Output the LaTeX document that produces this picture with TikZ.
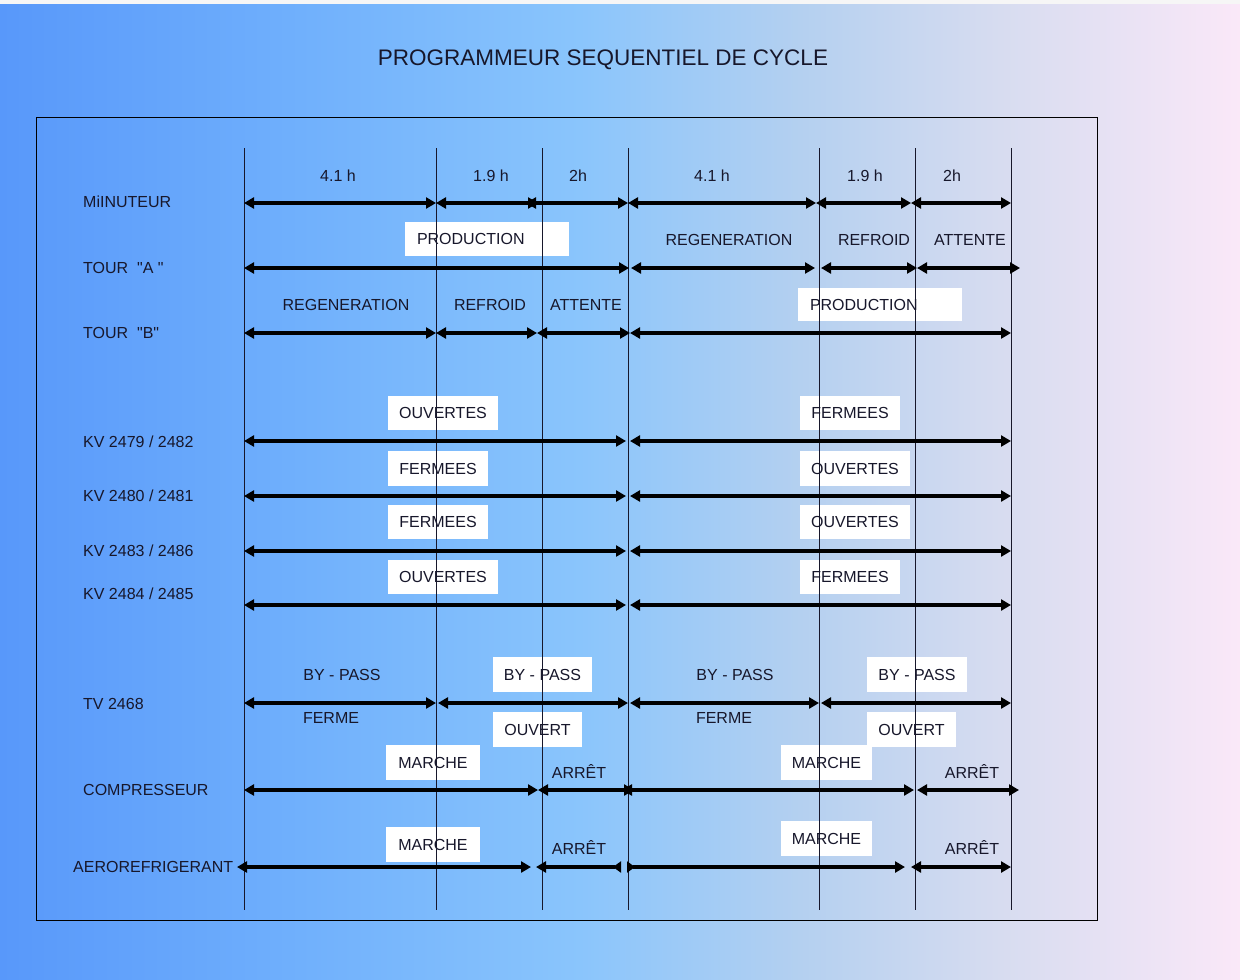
\documentclass[tikz,border=0pt]{standalone}
\usepackage{fontspec}
\setmainfont{Liberation Sans}[Ligatures=TeXOff]
\usetikzlibrary{arrows.meta}
\pgfdeclarelayer{bgl}
\pgfdeclarelayer{boxes}
\pgfdeclarelayer{grid}
\pgfsetlayers{bgl,boxes,grid,main}
\definecolor{ink}{HTML}{17172B}
\definecolor{g0}{RGB}{88,152,250}
\definecolor{g1}{RGB}{112,176,252}
\definecolor{g2}{RGB}{138,197,252}
\definecolor{g3}{RGB}{180,208,240}
\definecolor{g4}{RGB}{215,220,240}
\definecolor{g5}{RGB}{250,232,248}
% white backing behind a boxed label
\newcommand\boxfill[1]{\begin{pgfonlayer}{boxes}\fill[white] (#1.south west) rectangle (#1.north east);\end{pgfonlayer}}
\begin{document}
\begin{tikzpicture}[x=1pt,y=-1pt,
  lbl/.style={font=\fontsize{16}{19}\selectfont, text=ink, inner sep=0pt, text height=11.5pt, text depth=0pt},
  side/.style={lbl, anchor=west},
  tagbox/.style={lbl, minimum height=34pt},
  dblarrow/.style={line width=3.5pt, {Triangle[length=10pt,width=11pt]}-{Triangle[length=10pt,width=11pt]}},
  revend/.style={line width=3.5pt, {Triangle[length=10pt,width=11pt]}-{Triangle[length=8pt,width=11pt,reversed]}},
  revstart/.style={line width=3.5pt, {Triangle[length=8pt,width=11pt,reversed]}-{Triangle[length=10pt,width=11pt]}},
  tick/.style={draw=ink, line width=1pt}]
\useasboundingbox (0,0) rectangle (1240,980);

% background gradient
\begin{pgfonlayer}{bgl}
  \shade[left color=g0, right color=g1] (0,0) rectangle (300.5,980);
  \shade[left color=g1, right color=g2] (300,0) rectangle (580.5,980);
  \shade[left color=g2, right color=g3] (580,0) rectangle (800.5,980);
  \shade[left color=g3, right color=g4] (800,0) rectangle (1000.5,980);
  \shade[left color=g4, right color=g5] (1000,0) rectangle (1240,980);
  \fill[white!93!gray] (0,0) rectangle (1240,4);
\end{pgfonlayer}

% title and frame
\node[text=ink, inner sep=0pt, font=\fontsize{22.5}{26}\selectfont] (title) at (603,60) {PROGRAMMEUR SEQUENTIEL DE CYCLE};
\draw[black, line width=1pt] (36,117) coordinate (fr1) rectangle (1097,920) coordinate (fr2);

% time columns
\begin{pgfonlayer}{grid}
\foreach \i/\x in {1/244,2/436,3/542,4/628,5/819,6/915,7/1011}{
  \coordinate (t\i) at (\x,148);
  \coordinate (b\i) at (\x,910);
  \draw[tick] (t\i) -- (b\i);
}
\end{pgfonlayer}

% row names
\node[side] (n1) at (83,202) {MiINUTEUR};
\node[side] (n2) at (83,268) {TOUR\ \ "A "};
\node[side] (n3) at (83,333) {TOUR\ \ "B"};
\node[side] (n4) at (83,442) {KV 2479 / 2482};
\node[side] (n5) at (83,496) {KV 2480 / 2481};
\node[side] (n6) at (83,551) {KV 2483 / 2486};
\node[side] (n7) at (83,594) {KV 2484 / 2485};
\node[side] (n8) at (83,704) {TV 2468};
\node[side] (n9) at (83,790) {COMPRESSEUR};
\node[side] (n10) at (73,867) {AEROREFRIGERANT};

% timer
\node[lbl] (h1) at (338,176) {4.1 h};
\node[lbl] (h2) at (491,176) {1.9 h};
\node[lbl] (h3) at (578,176) {2h};
\node[lbl] (h4) at (712,176) {4.1 h};
\node[lbl] (h5) at (865,176) {1.9 h};
\node[lbl] (h6) at (952,176) {2h};
\foreach \n/\x in {1/244,2/436,3/538,4/526,5/628,6/816,7/911,8/1011}{\coordinate (m\n) at (\x,203);}
\draw[dblarrow] (m1) -- (m2);
\draw[dblarrow] (m2) -- (m3);
\draw[dblarrow] (m4) -- (m5);
\draw[dblarrow] (m5) -- (m6);
\draw[dblarrow] (m6) -- (m7);
\draw[dblarrow] (m7) -- (m8);

% tower A
\node[tagbox, text width=140pt, align=left, minimum width=164pt] (pa) at (487,239) {PRODUCTION};
\boxfill{pa}
\node[lbl] (a1l) at (729,240) {REGENERATION};
\node[lbl] (a2l) at (874,240) {REFROID};
\node[lbl] (a3l) at (970,240) {ATTENTE};
\foreach \n/\x in {1/244,2/629,3/631,4/815,5/821,6/917,7/1020}{\coordinate (a\n) at (\x,268);}
\draw[dblarrow] (a1) -- (a2);
\draw[dblarrow] (a3) -- (a4);
\draw[dblarrow] (a5) -- (a6);
\draw[dblarrow] (a6) -- (a7);

% tower B
\node[lbl] (b1l) at (346,305) {REGENERATION};
\node[lbl] (b2l) at (490,305) {REFROID};
\node[lbl] (b3l) at (586,305) {ATTENTE};
\node[tagbox, text width=140pt, align=left, minimum width=164pt, minimum height=33pt] (pb) at (880,304.5) {PRODUCTION};
\boxfill{pb}
\foreach \n/\x in {1/244,2/436,3/537,4/630,5/1011}{\coordinate (r\n) at (\x,333);}
\draw[dblarrow] (r1) -- (r2);
\draw[dblarrow] (r2) -- (r3);
\draw[dblarrow] (r3) -- (r4);
\draw[dblarrow] (r4) -- (r5);

% valves
\node[tagbox, minimum width=110pt] (k1l) at (443,413) {OUVERTES}; \boxfill{k1l}
\node[tagbox, minimum width=100pt] (k1r) at (850,413) {FERMEES}; \boxfill{k1r}
\node[tagbox, minimum width=100pt] (k2l) at (438,468.5) {FERMEES}; \boxfill{k2l}
\node[tagbox, minimum width=110pt] (k2r) at (855,468.5) {OUVERTES}; \boxfill{k2r}
\node[tagbox, minimum width=100pt] (k3l) at (438,522) {FERMEES}; \boxfill{k3l}
\node[tagbox, minimum width=110pt] (k3r) at (855,522) {OUVERTES}; \boxfill{k3r}
\node[tagbox, minimum width=110pt] (k4l) at (443,577) {OUVERTES}; \boxfill{k4l}
\node[tagbox, minimum width=100pt] (k4r) at (850,577) {FERMEES}; \boxfill{k4r}
\foreach \r/\y in {1/441,2/496,3/551,4/605}{
  \coordinate (kv\r a) at (244,\y);
  \coordinate (kv\r b) at (626,\y);
  \coordinate (kv\r c) at (630,\y);
  \coordinate (kv\r d) at (1011,\y);
  \draw[dblarrow] (kv\r a) -- (kv\r b);
  \draw[dblarrow] (kv\r c) -- (kv\r d);
}

% TV 2468
\node[lbl] (v1t) at (342,675) {BY - PASS};
\node[tagbox, minimum width=99pt, minimum height=35pt] (v2t) at (542.5,674.5) {BY - PASS}; \boxfill{v2t}
\node[lbl] (v3t) at (735,675) {BY - PASS};
\node[tagbox, minimum width=100pt, minimum height=35pt] (v4t) at (917,674.5) {BY - PASS}; \boxfill{v4t}
\node[lbl] (v1b) at (331,718) {FERME};
\node[tagbox, minimum width=89pt, minimum height=35pt] (v2b) at (537.5,729.5) {OUVERT}; \boxfill{v2b}
\node[lbl] (v3b) at (724,718) {FERME};
\node[tagbox, minimum width=89pt, minimum height=35pt] (v4b) at (911.5,729.5) {OUVERT}; \boxfill{v4b}
\foreach \n/\x in {1/244,2/436,3/438,4/628,5/630,6/819,7/821,8/1011}{\coordinate (v\n) at (\x,703);}
\draw[dblarrow] (v1) -- (v2);
\draw[dblarrow] (v3) -- (v4);
\draw[dblarrow] (v5) -- (v6);
\draw[dblarrow] (v7) -- (v8);

% compressor
\node[tagbox, minimum width=94pt, minimum height=35pt] (c1t) at (433,762.5) {MARCHE}; \boxfill{c1t}
\node[lbl] (c2t) at (579,773) {ARRÊT};
\node[tagbox, minimum width=91pt, minimum height=35pt] (c3t) at (826.5,762.5) {MARCHE}; \boxfill{c3t}
\node[lbl] (c4t) at (972,773) {ARRÊT};
\foreach \n/\x in {1/244,2/538,3/634,4/622,5/914,6/917,7/1019}{\coordinate (c\n) at (\x,790);}
\draw[dblarrow] (c1) -- (c2);
\draw[dblarrow] (c2) -- (c3);
\draw[dblarrow] (c4) -- (c5);
\draw[dblarrow] (c6) -- (c7);

% air cooler
\node[tagbox, minimum width=94pt, minimum height=35pt] (e1t) at (433,844.5) {MARCHE}; \boxfill{e1t}
\node[lbl] (e2t) at (579,849) {ARRÊT};
\node[tagbox, minimum width=91pt, minimum height=35pt] (e3t) at (826.5,838.5) {MARCHE}; \boxfill{e3t}
\node[lbl] (e4t) at (972,849) {ARRÊT};
\foreach \n/\x in {1/237,2/531,3/536,4/621,5/627,6/905,7/911,8/1011}{\coordinate (e\n) at (\x,867);}
\draw[dblarrow] (e1) -- (e2);
\draw[revend] (e3) -- (e4);
\draw[revstart] (e5) -- (e6);
\draw[dblarrow] (e7) -- (e8);
\end{tikzpicture}
\end{document}
